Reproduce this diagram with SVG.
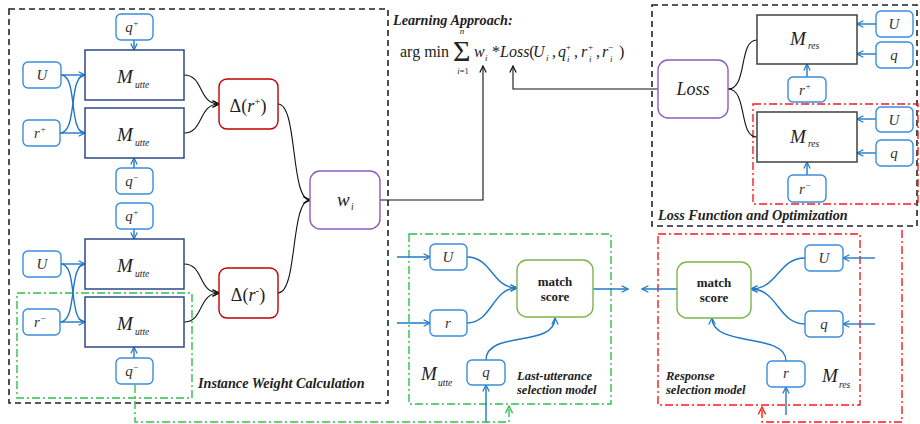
<svg xmlns="http://www.w3.org/2000/svg" width="920" height="424" viewBox="0 0 920 424" font-family="'Liberation Serif', serif">
<defs>
<style>
text{fill:#222;font-family:'Liberation Serif','Times New Roman',serif}
.in{fill:#fff;stroke:#3a8ddb;stroke-width:1.4}
.mu{fill:#fff;stroke:#2c4a85;stroke-width:1.5}
.mr{fill:#fff;stroke:#404040;stroke-width:1.5}
.dl{fill:#fff;stroke:#c00000;stroke-width:1.4}
.pu{fill:#fff;stroke:#8a5cc2;stroke-width:1.4}
.ms{fill:#fff;stroke:#7ab648;stroke-width:1.4}
.bl{fill:none;stroke:#1f78c8;stroke-width:1.4}
.bk{fill:none;stroke:#111;stroke-width:1.1}
.bd{fill:none;stroke:#222;stroke-width:1.6;stroke-dasharray:6 4}
.gd{fill:none;stroke:#2fbf4f;stroke-width:1.4;stroke-dasharray:8 3 2 3}
.rd{fill:none;stroke:#ff1a1a;stroke-width:1.4;stroke-dasharray:8 3 2 3}
.it{font-style:italic}
.lb{font-style:italic;font-size:15px;text-anchor:middle;fill:#333}
.big{font-style:italic;font-size:19px}
.sub{font-style:italic;font-size:9.5px}
.ttl{font-weight:bold;font-style:italic;font-size:14.2px}
.sm{font-weight:bold;font-style:italic;font-size:12.5px}
.mt{font-weight:bold;font-size:13px;text-anchor:middle}
</style>
<marker id="ab" viewBox="0 0 10 10" refX="9" refY="5" markerWidth="8" markerHeight="8" markerUnits="userSpaceOnUse" orient="auto"><path d="M1,1 L9,5 L1,9" fill="none" stroke="#1f78c8" stroke-width="1.5"/></marker>
<marker id="ak" viewBox="0 0 10 10" refX="9" refY="5" markerWidth="8" markerHeight="8" markerUnits="userSpaceOnUse" orient="auto"><path d="M1,1 L9,5 L1,9" fill="none" stroke="#111" stroke-width="1.5"/></marker>
<marker id="ag" viewBox="0 0 10 10" refX="9" refY="5" markerWidth="9" markerHeight="9" markerUnits="userSpaceOnUse" orient="auto"><path d="M1,1 L9,5 L1,9" fill="none" stroke="#2fbf4f" stroke-width="1.5"/></marker>
<marker id="ar" viewBox="0 0 10 10" refX="9" refY="5" markerWidth="9" markerHeight="9" markerUnits="userSpaceOnUse" orient="auto"><path d="M1,1 L9,5 L1,9" fill="none" stroke="#ff1a1a" stroke-width="1.5"/></marker>
</defs>
<rect width="920" height="424" fill="#fff"/>

<g id="frames">
<rect class="bd" x="9" y="9" width="379" height="394"/>
<rect class="bd" x="652" y="5" width="265" height="221"/>
<rect class="gd" x="17" y="293" width="175" height="105"/>
<rect class="gd" x="409" y="234" width="202" height="170"/>
<rect class="rd" x="658" y="234" width="202" height="171"/>
<rect class="rd" x="753" y="104" width="165" height="100"/>
</g>

<g id="connectors">
<path class="bl" d="M134,40 V50" marker-end="url(#ab)"/>
<path class="bl" d="M134,168 V158" marker-end="url(#ab)"/>
<path class="bl" d="M61,75 H85" marker-end="url(#ab)"/>
<path class="bl" d="M60,133 H85" marker-end="url(#ab)"/>
<path class="bl" d="M61,75 C78,75 68,133 85,133"/>
<path class="bl" d="M60,133 C78,133 68,75 85,75"/>
<path class="bk" d="M184,75 C204,75 198,104 219,104" marker-end="url(#ak)"/>
<path class="bk" d="M184,133 C204,133 198,104 219,104" marker-end="url(#ak)"/>
<path class="bl" d="M134,229 V239" marker-end="url(#ab)"/>
<path class="bl" d="M134,358 V347" marker-end="url(#ab)"/>
<path class="bl" d="M61,264 H85" marker-end="url(#ab)"/>
<path class="bl" d="M60,322 H85" marker-end="url(#ab)"/>
<path class="bl" d="M61,264 C78,264 68,322 85,322"/>
<path class="bl" d="M60,322 C78,322 68,264 85,264"/>
<path class="bk" d="M184,264 C204,264 198,293 219,293" marker-end="url(#ak)"/>
<path class="bk" d="M184,322 C204,322 198,293 219,293" marker-end="url(#ak)"/>
<path class="bk" d="M278,104 C298,104 290,200 310,200" marker-end="url(#ak)"/>
<path class="bk" d="M278,293 C298,293 290,200 310,200" marker-end="url(#ak)"/>
<path class="bk" d="M380,200 H483 V66" marker-end="url(#ak)"/>
<path class="bk" d="M658,89 H513 V66" marker-end="url(#ak)"/>
<path class="bk" d="M728,89 C748,89 738,40 757,40"/>
<path class="bk" d="M728,89 C748,89 738,137 757,137"/>
<path class="bl" d="M876,24 H857" marker-end="url(#ab)"/>
<path class="bl" d="M876,54 H857" marker-end="url(#ab)"/>
<path class="bl" d="M807,77 V64" marker-end="url(#ab)"/>
<path class="bl" d="M876,119 H857" marker-end="url(#ab)"/>
<path class="bl" d="M876,153 H857" marker-end="url(#ab)"/>
<path class="bl" d="M807,175 V162" marker-end="url(#ab)"/>
<path class="bl" d="M397,257 H430" marker-end="url(#ab)"/>
<path class="bl" d="M397,323 H430" marker-end="url(#ab)"/>
<path class="bl" d="M467,257 C492,257 492,288 517,288" marker-end="url(#ab)"/>
<path class="bl" d="M467,323 C492,323 492,288 517,288" marker-end="url(#ab)"/>
<path class="bl" d="M486,360 C486,330 555,348 555,318" marker-end="url(#ab)"/>
<path class="bl" d="M486,423 V385" marker-end="url(#ab)"/>
<path class="bl" d="M593,289 H628" marker-end="url(#ab)"/>
<path class="bl" d="M677,289 H642" marker-end="url(#ab)"/>
<path class="bl" d="M875,258 H843" marker-end="url(#ab)"/>
<path class="bl" d="M875,324 H843" marker-end="url(#ab)"/>
<path class="bl" d="M805,258 C778,258 778,289 751,289" marker-end="url(#ab)"/>
<path class="bl" d="M805,324 C778,324 778,289 751,289" marker-end="url(#ab)"/>
<path class="bl" d="M786,361 C786,332 712,348 712,318" marker-end="url(#ab)"/>
<path class="bl" d="M786,415 V387" marker-end="url(#ab)"/>
<path class="gd" d="M135,385 V422 H509 V406" marker-end="url(#ag)"/>
<path class="rd" d="M902,230 V422 H762 V407" marker-end="url(#ar)"/>
</g>

<g id="qp1"><rect class="in" x="116" y="14" width="37" height="26" rx="5"/><text class="lb" x="132" y="32">q<tspan font-size="9" dy="-6">+</tspan></text></g>
<g id="mu1"><rect class="mu" x="85" y="50" width="99" height="50"/><text class="big" x="117" y="83">M</text><text class="sub" x="135" y="88">utte</text></g>
<g id="mu2"><rect class="mu" x="85" y="108" width="99" height="50"/><text class="big" x="117" y="141">M</text><text class="sub" x="135" y="146">utte</text></g>
<g id="u1"><rect class="in" x="23" y="62" width="38" height="26" rx="5"/><text class="lb" x="42" y="80">U</text></g>
<g id="rp1"><rect class="in" x="23" y="120" width="37" height="26" rx="5"/><text class="lb" x="40" y="138">r<tspan font-size="9" dy="-6">+</tspan></text></g>
<g id="qm1"><rect class="in" x="116" y="168" width="37" height="26" rx="5"/><text class="lb" x="132" y="186">q<tspan font-size="9" dy="-6">−</tspan></text></g>
<g id="dp"><rect class="dl" x="219" y="79" width="59" height="50" rx="8"/><text x="248" y="112" font-size="18" text-anchor="middle">Δ(<tspan class="it">r</tspan><tspan font-size="11" dy="-7">+</tspan><tspan dy="7">)</tspan></text></g>

<g id="qp2"><rect class="in" x="116" y="203" width="37" height="26" rx="5"/><text class="lb" x="132" y="221">q<tspan font-size="9" dy="-6">+</tspan></text></g>
<g id="mu3"><rect class="mu" x="85" y="239" width="99" height="50"/><text class="big" x="117" y="272">M</text><text class="sub" x="135" y="277">utte</text></g>
<g id="mu4"><rect class="mu" x="85" y="297" width="99" height="50"/><text class="big" x="117" y="330">M</text><text class="sub" x="135" y="335">utte</text></g>
<g id="u2"><rect class="in" x="23" y="251" width="38" height="26" rx="5"/><text class="lb" x="42" y="269">U</text></g>
<g id="rm1"><rect class="in" x="23" y="309" width="37" height="26" rx="5"/><text class="lb" x="40" y="327">r<tspan font-size="9" dy="-6">−</tspan></text></g>
<g id="qm2"><rect class="in" x="116" y="358" width="37" height="26" rx="5"/><text class="lb" x="132" y="376">q<tspan font-size="9" dy="-6">−</tspan></text></g>
<g id="dm"><rect class="dl" x="219" y="268" width="59" height="50" rx="8"/><text x="248" y="301" font-size="18" text-anchor="middle">Δ(<tspan class="it">r</tspan><tspan font-size="11" dy="-7">-</tspan><tspan dy="7">)</tspan></text></g>

<g id="wi"><rect class="pu" x="310" y="171" width="70" height="58" rx="10"/><text class="it" x="337" y="206" font-size="19">w</text><text class="sub" x="351" y="210">i</text></g>

<g id="iwc"><text class="ttl" x="198" y="388">Instance Weight Calculation</text></g>

<g id="formula">
<text class="ttl" x="393" y="25" font-size="12">Learning Approach:</text>
<text x="400" y="57" font-size="16">arg min</text>
<text x="453" y="61" font-size="30">Σ</text>
<text class="it" x="462" y="34" font-size="9" text-anchor="middle">n</text>
<text x="463" y="74" font-size="8.5" text-anchor="middle"><tspan class="it">i</tspan>=1</text>
<text class="it" x="474" y="57" font-size="16">w</text>
<text class="it" x="485" y="61" font-size="9">i</text>
<text x="492" y="57" font-size="16">*<tspan class="it">Loss</tspan>(</text>
<text class="it" x="533" y="57" font-size="16">U</text>
<text class="it" x="546" y="61" font-size="9">i</text>
<text x="552" y="57" font-size="16">,</text>
<text class="it" x="558" y="57" font-size="16">q</text>
<text x="566" y="50" font-size="9">+</text>
<text class="it" x="567" y="62" font-size="9">i</text>
<text x="574" y="57" font-size="16">,</text>
<text class="it" x="581" y="57" font-size="16">r</text>
<text x="588" y="50" font-size="9">+</text>
<text class="it" x="589" y="62" font-size="9">i</text>
<text x="596" y="57" font-size="16">,</text>
<text class="it" x="602" y="57" font-size="16">r</text>
<text x="608" y="50" font-size="9">−</text>
<text class="it" x="610" y="62" font-size="9">i</text>
<text x="619" y="57" font-size="16">)</text>
</g>

<g id="loss"><rect class="pu" x="658" y="60" width="70" height="58" rx="10"/><text class="it" x="693" y="95" font-size="18" text-anchor="middle">Loss</text></g>
<g id="mr1"><rect class="mr" x="757" y="15" width="100" height="49"/><text class="big" x="790" y="45">M</text><text class="sub" x="808" y="49">res</text></g>
<g id="ur1"><rect class="in" x="876" y="11" width="37" height="26" rx="5"/><text class="lb" x="894" y="29">U</text></g>
<g id="qr1"><rect class="in" x="876" y="42" width="37" height="26" rx="5"/><text class="lb" x="894" y="60">q</text></g>
<g id="rpr"><rect class="in" x="788" y="77" width="38" height="25" rx="5"/><text class="lb" x="805" y="95">r<tspan font-size="9" dy="-6">+</tspan></text></g>
<g id="mr2"><rect class="mr" x="757" y="112" width="100" height="50"/><text class="big" x="790" y="143">M</text><text class="sub" x="808" y="147">res</text></g>
<g id="ur2"><rect class="in" x="876" y="107" width="37" height="25" rx="5"/><text class="lb" x="894" y="125">U</text></g>
<g id="qr2"><rect class="in" x="876" y="140" width="37" height="26" rx="5"/><text class="lb" x="894" y="158">q</text></g>
<g id="rmr"><rect class="in" x="788" y="175" width="38" height="27" rx="5"/><text class="lb" x="805" y="194">r<tspan font-size="9" dy="-6">−</tspan></text></g>
<g id="lfo"><text class="ttl" x="658" y="220">Loss Function and Optimization</text></g>

<g id="lu_U"><rect class="in" x="430" y="244" width="37" height="26" rx="5"/><text class="lb" x="448" y="262">U</text></g>
<g id="lu_r"><rect class="in" x="430" y="310" width="37" height="26" rx="5"/><text class="lb" x="448" y="328">r</text></g>
<g id="lu_q"><rect class="in" x="467" y="360" width="38" height="25" rx="5"/><text class="lb" x="486" y="377">q</text></g>
<g id="lu_ms"><rect class="ms" x="517" y="260" width="76" height="57" rx="10"/><text class="mt" x="555" y="286">match</text><text class="mt" x="555" y="301">score</text></g>
<g id="lu_lbl"><text class="big" x="421" y="380">M</text><text class="sub" x="438" y="386">utte</text><text class="sm" x="517" y="380">Last-utterance</text><text class="sm" x="517" y="394">selection model</text></g>

<g id="rs_ms"><rect class="ms" x="677" y="262" width="74" height="56" rx="10"/><text class="mt" x="714" y="287">match</text><text class="mt" x="714" y="302">score</text></g>
<g id="rs_U"><rect class="in" x="805" y="245" width="38" height="26" rx="5"/><text class="lb" x="824" y="263">U</text></g>
<g id="rs_q"><rect class="in" x="805" y="311" width="38" height="26" rx="5"/><text class="lb" x="824" y="329">q</text></g>
<g id="rs_r"><rect class="in" x="767" y="361" width="38" height="26" rx="5"/><text class="lb" x="786" y="378">r</text></g>
<g id="rs_lbl"><text class="sm" x="666" y="380">Response</text><text class="sm" x="666" y="394">selection model</text><text class="big" x="822" y="382">M</text><text class="sub" x="839" y="388">res</text></g>
</svg>
